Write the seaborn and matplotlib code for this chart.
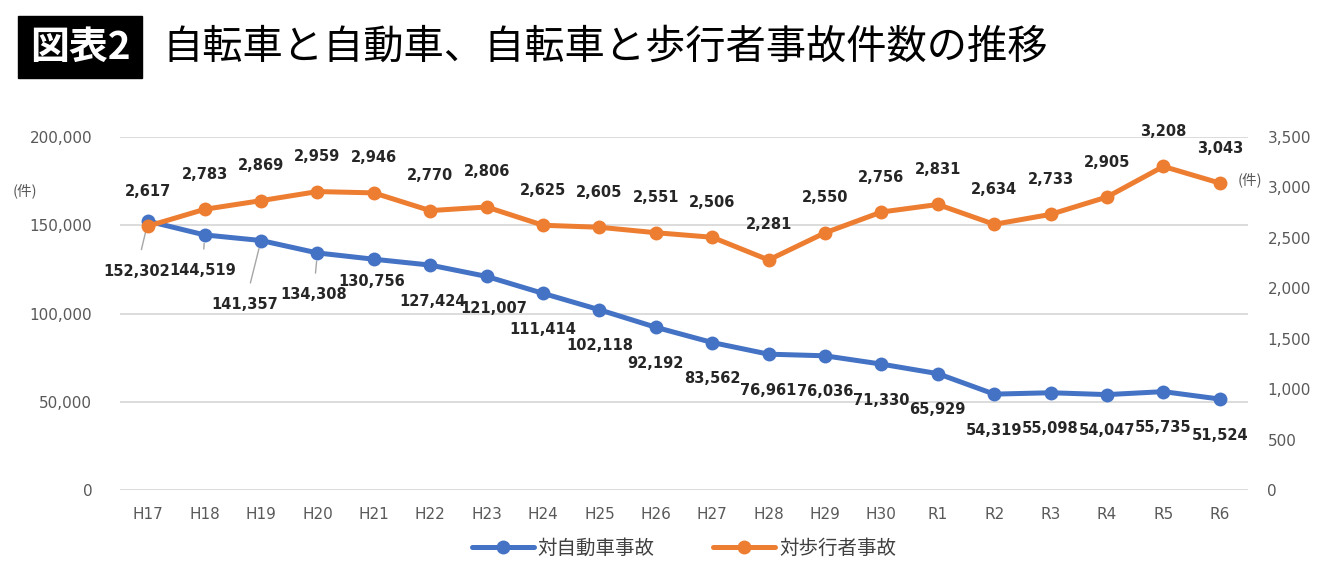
import matplotlib

matplotlib.use("Agg")
import matplotlib.pyplot as plt  # noqa: E402
import numpy as np
import pandas as pd
import seaborn as sns

years = ["H17", "H18", "H19", "H20", "H21", "H22", "H23", "H24", "H25", "H26",
         "H27", "H28", "H29", "H30", "R1", "R2", "R3", "R4", "R5", "R6"]
car = [152302, 144519, 141357, 134308, 130756, 127424, 121007, 111414, 102118, 92192,
       83562, 76961, 76036, 71330, 65929, 54319, 55098, 54047, 55735, 51524]
ped = [2617, 2783, 2869, 2959, 2946, 2770, 2806, 2625, 2605, 2551,
       2506, 2281, 2550, 2756, 2831, 2634, 2733, 2905, 3208, 3043]
car_name = "対自動車事故"
ped_name = "対歩行者事故"
title = "自転車と自動車、自転車と歩行者事故件数の推移"

BLUE = "#4472C4"
ORANGE = "#ED7D31"
JP = ["Noto Sans CJK JP", "DejaVu Sans"]

# label offsets in pixels (dx, dy); blue labels sit below the points
car_off = {0: (-12, -50), 1: (-2, -36), 2: (-16, -64), 3: (-4, -42), 4: (-2, -22),
           5: (2, -36), 6: (7, -32)}
car_leader = {0, 1, 2, 3}

df = pd.DataFrame({"pos": np.arange(len(years)), "car": car, "ped": ped})

sns.set_theme(style="white")
plt.rcParams["font.family"] = ["DejaVu Sans", "Noto Sans CJK JP"]

fig = plt.figure(figsize=(13.4, 5.8), dpi=100)
ax = fig.add_axes([120 / 1340, 1 - 490 / 580, 1128 / 1340, 353 / 580])
ax2 = ax.twinx()

line_kw = dict(linewidth=3.6, marker="o", markersize=10, markeredgewidth=0)
sns.lineplot(data=df, x="pos", y="car", ax=ax, color=BLUE, label=car_name, legend=False, **line_kw)
sns.lineplot(data=df, x="pos", y="ped", ax=ax2, color=ORANGE, label=ped_name, legend=False, **line_kw)

ax.set_xlim(-0.5, len(years) - 0.5)
ax.set_ylim(0, 200000)
ax2.set_ylim(0, 3500)
ax.set_yticks(np.arange(0, 200001, 50000))
ax2.set_yticks(np.arange(0, 3501, 500))
ax.yaxis.set_major_formatter(matplotlib.ticker.StrMethodFormatter("{x:,.0f}"))
ax2.yaxis.set_major_formatter(matplotlib.ticker.StrMethodFormatter("{x:,.0f}"))
ax.set_xticks(df["pos"], years)
ax.set_xlabel("")
ax.set_ylabel("")
ax2.set_ylabel("")

ax.grid(axis="y", color="#d9d9d9", linewidth=1.3)
ax2.grid(False)
for a in (ax, ax2):
    for s in a.spines.values():
        s.set_visible(False)
ax.tick_params(axis="both", length=0, labelsize=11, labelcolor="#595959")
ax.tick_params(axis="y", pad=20)
ax.tick_params(axis="x", pad=12)
ax2.tick_params(axis="y", length=0, labelsize=11, labelcolor="#595959", pad=14)

lab_kw = dict(textcoords="offset pixels", ha="center", va="center", fontsize=10.5,
              fontweight="bold", color="#262626", annotation_clip=False)
for i, v in enumerate(car):
    dx, dy = car_off.get(i, (0, -36))
    arrow = dict(arrowstyle="-", color="#a6a6a6", lw=1, shrinkA=8, shrinkB=6) if i in car_leader else None
    ax.annotate(f"{v:,}", xy=(i, v), xytext=(dx, dy), arrowprops=arrow, **lab_kw)
for i, v in enumerate(ped):
    ax2.annotate(f"{v:,}", xy=(i, v), xytext=(0, 35), **lab_kw)

fig.text(25 / 1340, 1 - 191 / 580, "(件)", ha="center", va="center", fontsize=10.5,
         color="#595959", family=JP)
fig.text(1250 / 1340, 1 - 180 / 580, "(件)", ha="center", va="center", fontsize=10.5,
         color="#595959", family=JP)

handles = ax.get_lines()[:1] + ax2.get_lines()[:1]
fig.legend(handles, [car_name, ped_name], loc="center", bbox_to_anchor=(684 / 1340, 1 - 548 / 580),
           ncol=2, frameon=False, columnspacing=3, handlelength=3.2, handletextpad=0.2,
           labelcolor="#404040", prop=dict(family=JP, size=14))

fig.text(80 / 1340, 1 - 47 / 580, "図表2", ha="center", va="center", fontsize=28,
         fontweight="bold", color="white", family=JP,
         bbox=dict(boxstyle="square,pad=0.3", facecolor="black", edgecolor="black"))
fig.text(162 / 1340, 1 - 47 / 580, title, ha="left", va="center", fontsize=29,
         color="black", family=JP)

fig.savefig("out.png", dpi=100)
